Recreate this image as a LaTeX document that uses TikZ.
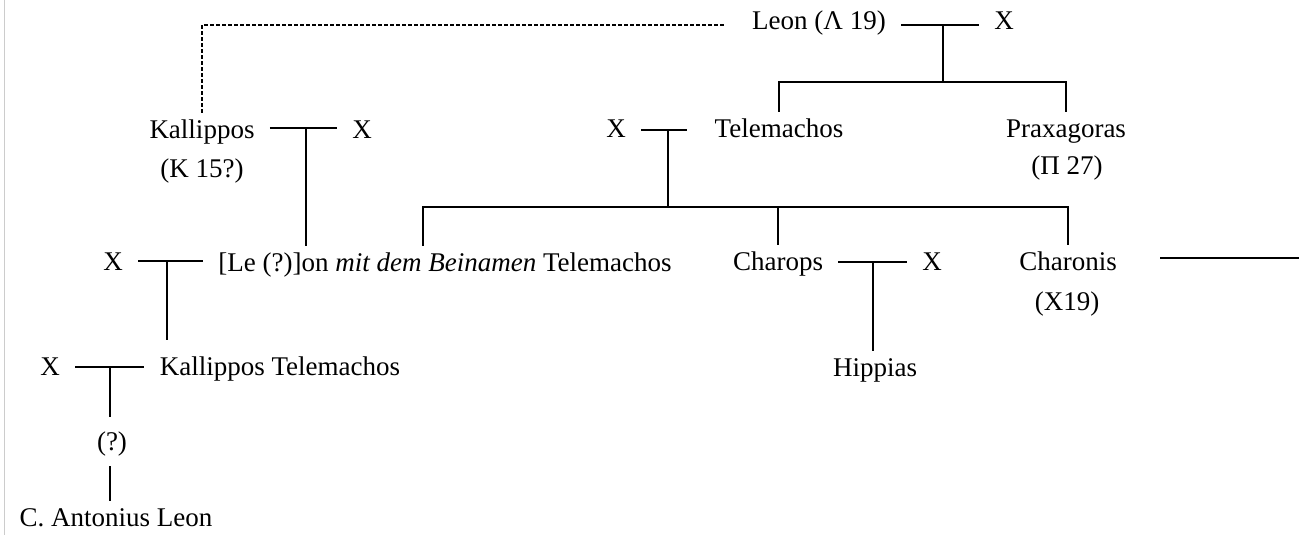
\documentclass[tikz,border=0pt]{standalone}
\usepackage{fontspec}
\setmainfont{Liberation Serif}
\begin{document}
\begin{tikzpicture}[x=0.5pt,y=-0.5pt,
  person/.style={anchor=base,inner xsep=7.5pt,inner ysep=5.5pt,text height=0.7em,text depth=0.25em,font=\fontsize{13.5}{16}\selectfont},
  kin/.style={line width=0.7pt}]
\useasboundingbox (0,0) rectangle (1299,535);
\draw[gray!40,very thin] (4,0) -- (4,535);
% generation 1
\node[person] (leon) at (819,30) {Leon (Λ 19)};
\node[person] (xleon) at (1004,30) {X};
% generation 2
\node[person] (kallippos) at (202,138) {Kallippos};
\node[person] (kallnr) at (202,177) {(K 15?)};
\node[person] (xkall) at (362,138) {X};
\node[person] (xtele) at (616,137) {X};
\node[person] (tele) at (779,137) {Telemachos};
\node[person] (prax) at (1066,137) {Praxagoras};
\node[person] (praxnr) at (1067,174) {(Π 27)};
% generation 3
\node[person] (xleont) at (113,270) {X};
\node[person] (leont) at (445,271) {[Le (?)]on \textit{mit dem Beinamen} Telemachos};
\node[person] (charops) at (778,270) {Charops};
\node[person] (xchar) at (932,270) {X};
\node[person] (charonis) at (1068,270) {Charonis};
\node[person] (charnr) at (1067,310) {(X19)};
% generation 4
\node[person] (xkt) at (50,375) {X};
\node[person] (kalltele) at (280,375) {Kallippos Telemachos};
\node[person] (hippias) at (875,376) {Hippias};
\node[person] (unsure) at (112,450) {(?)};
\node[person] (antonius) at (116,526) {C. Antonius Leon};
% junctions
\coordinate (mLeon) at (943,25);
\coordinate (bLeon) at (943,82);
\coordinate (mKall) at (306,128);
\coordinate (mTele) at (668,130);
\coordinate (bTele) at (668,207);
\coordinate (mChar) at (873,262);
\coordinate (mLeonT) at (167,261);
\coordinate (mKT) at (110,367);
\coordinate (offpage) at (1299,258);
% lines
\draw[kin,dash pattern=on 2pt off 1pt] (leon.west |- mLeon) ++(-6.5pt,0) -- (kallippos.north |- mLeon) -- (kallippos.north);
\draw[kin] (leon.east |- mLeon) -- (xleon.west |- mLeon);
\draw[kin] (mLeon) -- (bLeon);
\draw[kin] (tele.north) -- (tele.north |- bLeon) -- (prax.north |- bLeon) -- (prax.north);
\draw[kin] (kallippos.east |- mKall) -- (xkall.west |- mKall);
\draw[kin] (mKall) -- (leont.north -| mKall);
\draw[kin,shorten >=6pt] (xtele.east |- mTele) -- (tele.west |- mTele);
\draw[kin] (mTele) -- (bTele);
\draw[kin] (leont.north -| 423,0) -- (423,207) -- (charonis.north |- bTele) -- (charonis.north);
\draw[kin] (charops.north |- bTele) -- (charops.north);
\draw[kin] (charops.east |- mChar) -- (xchar.west |- mChar);
\draw[kin] (mChar) -- (hippias.north -| mChar);
\draw[kin,shorten <=14pt] (charonis.east |- offpage) -- (offpage);
\draw[kin] (xleont.east |- mLeonT) -- (leont.west |- mLeonT);
\draw[kin,shorten >=5pt] (mLeonT) -- (kalltele.north -| mLeonT);
\draw[kin] (xkt.east |- mKT) -- (kalltele.west |- mKT);
\draw[kin,shorten >=4pt] (mKT) -- (unsure.north -| mKT);
\draw[kin] (unsure.south -| mKT) -- (antonius.north -| mKT);
\end{tikzpicture}
\end{document}
